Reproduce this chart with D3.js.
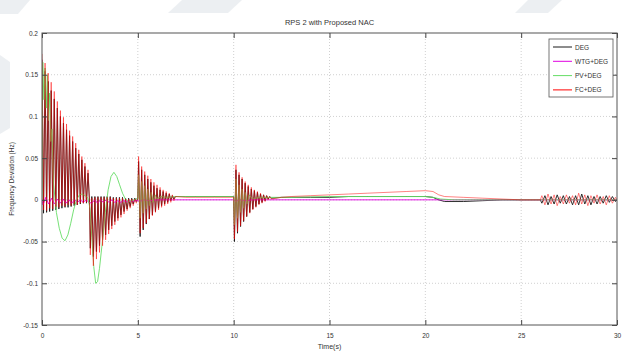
<!DOCTYPE html>
<html>
<head>
<meta charset="utf-8">
<script src="https://cdn.jsdelivr.net/npm/d3@7"></script>
<style>
  html, body { margin: 0; padding: 0; background: #fff; }
  svg { display: block; font-family: Arial, "Liberation Sans", sans-serif; }
</style>
</head>
<body>
<svg id="chart" width="630" height="352"></svg>
<script>
// ---- data ----------------------------------------------------------------
const chartTitle = "RPS 2 with Proposed NAC";
const xLabel = "Time(s)";
const yLabel = "Frequency Deviation (Hz)";
const xTicks = [0, 5, 10, 15, 20, 25, 30];
const yTicks = [-0.15, -0.1, -0.05, 0, 0.05, 0.1, 0.15, 0.2];
const seriesNames = ["DEG", "WTG+DEG", "PV+DEG", "FC+DEG"];

// shared sample times for the two fast-oscillating responses
const tFast = [
  0, 0.08, 0.16, 0.24, 0.32, 0.40, 0.48, 0.56, 0.64, 0.72, 0.80, 0.88, 0.96, 1.04, 1.12, 1.20,
  1.28, 1.36, 1.44, 1.52, 1.60, 1.68, 1.76, 1.84, 1.92, 2.00, 2.08, 2.16, 2.24, 2.32, 2.40, 2.48,
  2.52, 2.60, 2.68, 2.76, 2.84, 2.92, 3.00, 3.08, 3.16, 3.24, 3.32, 3.40, 3.48, 3.56, 3.64, 3.72,
  3.80, 3.88, 3.96, 4.04, 4.12, 4.20, 4.28, 4.36, 4.44, 4.52, 4.60, 4.68, 4.76, 4.84, 4.92,
  5.00, 5.04, 5.12, 5.20, 5.28, 5.36, 5.44, 5.52, 5.60, 5.68, 5.76, 5.84, 5.92, 6.00, 6.08, 6.16,
  6.24, 6.32, 6.40, 6.48, 6.56, 6.64, 6.72, 6.80, 6.88, 6.96, 7.5, 8, 9, 9.96,
  10.00, 10.04, 10.12, 10.20, 10.28, 10.36, 10.44, 10.52, 10.60, 10.68, 10.76, 10.84, 10.92, 11.00,
  11.08, 11.16, 11.24, 11.32, 11.40, 11.48, 11.56, 11.64, 11.72, 11.80, 11.88, 11.96,
  12.5, 13, 14, 15, 16, 17, 18, 19, 20, 20.4, 20.7, 21, 22, 23, 24, 25, 26,
  26.08, 26.24, 26.40, 26.56, 26.72, 26.88, 27.04, 27.20, 27.36, 27.52, 27.68, 27.84, 28.00,
  28.16, 28.32, 28.48, 28.64, 28.80, 28.96, 29.12, 29.28, 29.44, 29.60, 29.76, 29.92, 30
];

const dfDEG = [
  0.168, -0.016, 0.154, -0.015, 0.142, -0.014, 0.131, -0.013, 0.121, -0.012, 0.110, -0.011, 0.100, -0.010, 0.092, -0.009,
  0.084, -0.009, 0.077, -0.008, 0.070, -0.007, 0.062, -0.006, 0.055, -0.005, 0.048, -0.004, 0.040, -0.004, 0.032, -0.003,
  -0.058, 0.004, -0.068, 0.004, -0.062, 0.004, -0.055, 0.004, -0.048, 0.004, -0.042, 0.004, -0.036, 0.004, -0.031, 0.003,
  -0.026, 0.003, -0.022, 0.003, -0.018, 0.003, -0.014, 0.002, -0.011, 0.002, -0.008, 0.002, -0.005, 0.002, -0.002,
  0.002, 0.046, -0.044, 0.036, -0.036, 0.030, -0.029, 0.025, -0.023, 0.021, -0.018, 0.017, -0.014, 0.014, -0.010, 0.012,
  -0.007, 0.010, -0.005, 0.008, -0.003, 0.007, -0.001, 0.005, 0.001, 0.004, 0.004, 0.004, 0.004, 0.004,
  0.004, -0.050, 0.036, -0.040, 0.030, -0.032, 0.025, -0.026, 0.020, -0.020, 0.016, -0.015, 0.013, -0.011,
  0.011, -0.008, 0.009, -0.005, 0.007, -0.003, 0.006, -0.001, 0.005, 0.001, 0.004, 0.002,
  0.003, 0.003, 0.003, 0.003, 0.004, 0.004, 0.004, 0.004, 0.004, 0.003, 0.000, -0.002, -0.002, -0.001, 0.000, 0.000, 0.000,
  -0.004, 0.005, -0.006, 0.004, -0.005, 0.006, -0.004, 0.005, -0.005, 0.004, -0.006, 0.005, -0.006,
  0.007, -0.005, 0.005, -0.006, 0.004, -0.005, 0.004, -0.004, 0.005, -0.003, 0.004, -0.002, 0.000
];

const dfFC = [
  0.175, -0.012, 0.164, -0.013, 0.152, -0.010, 0.141, -0.011, 0.130, -0.008, 0.118, -0.009, 0.107, -0.007, 0.099, -0.008,
  0.091, -0.006, 0.083, -0.007, 0.076, -0.005, 0.068, -0.006, 0.060, -0.004, 0.052, -0.004, 0.044, -0.003, 0.036, -0.002,
  -0.066, 0.002, -0.079, 0.003, -0.071, 0.003, -0.063, 0.003, -0.055, 0.003, -0.048, 0.003, -0.041, 0.003, -0.035, 0.002,
  -0.030, 0.002, -0.025, 0.002, -0.021, 0.002, -0.017, 0.001, -0.013, 0.001, -0.010, 0.001, -0.007, 0.001, -0.004,
  0.002, 0.052, -0.040, 0.040, -0.034, 0.034, -0.028, 0.029, -0.023, 0.025, -0.019, 0.021, -0.015, 0.018, -0.012, 0.015,
  -0.009, 0.012, -0.007, 0.010, -0.005, 0.008, -0.003, 0.006, -0.001, 0.004, 0.003, 0.003, 0.003, 0.003,
  0.003, -0.047, 0.042, -0.038, 0.033, -0.031, 0.027, -0.025, 0.022, -0.020, 0.018, -0.016, 0.015, -0.012,
  0.012, -0.009, 0.010, -0.006, 0.008, -0.004, 0.006, -0.002, 0.005, 0.000, 0.004, 0.001,
  0.003, 0.004, 0.005, 0.006, 0.007, 0.008, 0.009, 0.010, 0.011, 0.010, 0.006, 0.004, 0.003, 0.002, 0.001, 0.000, 0.000,
  0.005, -0.006, 0.007, -0.005, 0.006, -0.007, 0.004, -0.005, 0.006, -0.004, 0.005, -0.006, 0.008,
  -0.005, 0.006, -0.007, 0.005, -0.004, 0.006, -0.005, 0.004, -0.006, 0.005, -0.004, 0.003, 0.000
];

// slower responses, each with its own sample times
const tPV = [
  0, 0.04, 0.10, 0.16, 0.22, 0.28, 0.34, 0.40, 0.46, 0.52, 0.60, 0.75, 0.9, 1.05, 1.2, 1.35, 1.5,
  1.65, 1.8, 1.95, 2.1, 2.25, 2.4, 2.5, 2.6, 2.7, 2.8, 2.9, 3.0, 3.15, 3.3, 3.45, 3.6, 3.75, 3.9,
  4.05, 4.2, 4.35, 4.5, 4.7, 4.9, 5.0, 5.04, 5.12, 5.2, 5.28, 5.36, 5.44, 5.52, 5.6, 5.7, 5.8, 5.9,
  6.0, 6.2, 6.5, 7, 8, 9, 9.96, 10.0, 10.04, 10.12, 10.2, 10.28, 10.36, 10.44, 10.52, 10.6, 10.7,
  10.8, 11, 11.3, 12, 13, 15, 17, 19, 20, 20.4, 20.8, 21.5, 22.5, 24, 26, 28, 30
];
const dfPV = [
  0.0, 0.165, 0.120, 0.158, 0.110, 0.150, 0.095, 0.128, 0.070, 0.085, 0.020, -0.015, -0.034, -0.046, -0.049, -0.042, -0.028,
  -0.012, 0.000, 0.006, 0.007, 0.005, 0.002, -0.010, -0.045, -0.080, -0.100, -0.098, -0.082, -0.050, -0.015, 0.012, 0.028, 0.033, 0.028,
  0.018, 0.008, 0.001, -0.002, -0.001, 0.001, 0.002, 0.030, -0.022, 0.022, -0.016, 0.017, -0.011, 0.013, -0.007, 0.009, -0.003, 0.006,
  0.001, 0.004, 0.003, 0.004, 0.004, 0.004, 0.004, 0.004, -0.030, 0.025, -0.022, 0.018, -0.015, 0.013, -0.010, 0.009, -0.005,
  0.006, 0.001, 0.003, 0.003, 0.003, 0.004, 0.004, 0.004, 0.004, 0.003, 0.001, 0.000, 0.000, 0.000, 0.000, 0.000, 0.000
];

const tWTG = [
  0, 0.05, 0.2, 0.35, 0.5, 0.65, 0.8, 0.95, 1.1, 1.25, 1.4, 1.55, 1.7, 1.85, 2.0, 2.15, 2.3, 2.45,
  2.6, 2.75, 2.9, 3.05, 3.2, 3.35, 3.5, 3.65, 3.8, 3.95, 4.1, 4.25, 4.4, 4.55, 4.7, 4.85, 5.0, 5.1,
  5.3, 5.6, 6, 10, 10.1, 10.3, 10.6, 11, 30
];
const dfWTG = [
  0, -0.006, 0.003, -0.005, 0.002, -0.005, 0.001, -0.004, 0.001, -0.004, 0.000, -0.004, 0.000, -0.003, 0.000, -0.003, 0.000, -0.003,
  -0.004, 0.000, -0.004, 0.000, -0.003, 0.000, -0.003, 0.000, -0.003, -0.001, -0.003, -0.001, -0.002, -0.001, -0.002, -0.001, -0.001, -0.002,
  0.000, -0.001, 0.000, 0.000, -0.002, 0.000, -0.001, 0.000, 0.000
];

const seriesColors = ["#1a1a1a", "#e000e0", "#66dd66", "#ff0000"];

// ---- layout --------------------------------------------------------------
const svg = d3.select("#chart");
const W = 630, H = 352;
const plot = { left: 42, right: 617, top: 33, bottom: 325 };

svg.append("rect").attr("width", W).attr("height", H).attr("fill", "#fff");

// faint background swatches in the page margins
const swatches = [
  [[0, 0], [30, 0], [18, 14], [0, 14]],
  [[182, 0], [242, 0], [228, 13], [168, 13]],
  [[528, 0], [562, 0], [548, 13], [515, 13]],
  [[0, 55], [10, 62], [10, 128], [0, 134]]
];
svg.append("g").selectAll("path").data(swatches).join("path")
  .attr("d", d => d3.line()(d) + "Z")
  .attr("fill", "#dde2e8").attr("opacity", 0.55);

const x = d3.scaleLinear().domain([0, 30]).range([plot.left, plot.right]);
const y = d3.scaleLinear().domain([-0.15, 0.2]).range([plot.bottom, plot.top]);

// grid
const grid = svg.append("g").attr("stroke", "#c4c4c4").attr("stroke-width", 0.8)
  .attr("stroke-dasharray", "1,2");
grid.selectAll("line.gx").data(xTicks.slice(1, -1)).join("line")
  .attr("x1", d => x(d)).attr("x2", d => x(d))
  .attr("y1", plot.top).attr("y2", plot.bottom);
grid.selectAll("line.gy").data(yTicks.slice(1, -1)).join("line")
  .attr("y1", d => y(d)).attr("y2", d => y(d))
  .attr("x1", plot.left).attr("x2", plot.right);

// series
svg.append("clipPath").attr("id", "plotclip").append("rect")
  .attr("x", plot.left).attr("y", plot.top)
  .attr("width", plot.right - plot.left).attr("height", plot.bottom - plot.top);

const pair = (ts, vs) => ts.map((t, i) => [t, vs[i]]).filter(d => d[1] !== undefined);
const series = [
  pair(tFast, dfDEG),
  pair(tWTG, dfWTG),
  pair(tPV, dfPV),
  pair(tFast, dfFC)
];
const line = d3.line().x(d => x(d[0])).y(d => y(d[1]));
svg.append("g").attr("clip-path", "url(#plotclip)")
  .selectAll("path").data(series).join("path")
  .attr("d", line)
  .attr("fill", "none")
  .attr("stroke", (d, i) => seriesColors[i])
  .attr("stroke-width", (d, i) => i === 3 ? 0.7 : 0.9)
  .attr("stroke-opacity", (d, i) => i === 3 ? 0.7 : 1);

// axes box and ticks (inward, on all four sides)
const fmtY = d => d === 0 ? "0" : String(+d.toFixed(2));
svg.append("g").attr("transform", `translate(0,${plot.bottom})`)
  .call(d3.axisBottom(x).tickValues(xTicks).tickSizeInner(-5).tickSizeOuter(0).tickPadding(8))
  .call(g => g.select(".domain").remove());
svg.append("g").attr("transform", `translate(0,${plot.top})`)
  .call(d3.axisTop(x).tickValues(xTicks).tickSizeInner(-5).tickSizeOuter(0).tickFormat(""))
  .call(g => g.select(".domain").remove());
svg.append("g").attr("transform", `translate(${plot.left},0)`)
  .call(d3.axisLeft(y).tickValues(yTicks).tickSizeInner(-5).tickSizeOuter(0).tickPadding(4).tickFormat(fmtY))
  .call(g => g.select(".domain").remove());
svg.append("g").attr("transform", `translate(${plot.right},0)`)
  .call(d3.axisRight(y).tickValues(yTicks).tickSizeInner(-5).tickSizeOuter(0).tickFormat(""))
  .call(g => g.select(".domain").remove());
svg.selectAll(".tick line").attr("stroke", "#444");
svg.selectAll(".tick text").attr("font-size", 6.5).attr("fill", "#333")
  .attr("font-family", "Arial, 'Liberation Sans', sans-serif");

svg.append("rect")
  .attr("x", plot.left).attr("y", plot.top)
  .attr("width", plot.right - plot.left).attr("height", plot.bottom - plot.top)
  .attr("fill", "none").attr("stroke", "#555").attr("stroke-width", 1);

// titles
svg.append("text").attr("x", (plot.left + plot.right) / 2).attr("y", 25)
  .attr("text-anchor", "middle").attr("font-size", 7.5).attr("fill", "#333")
  .text(chartTitle);
svg.append("text").attr("x", (plot.left + plot.right) / 2).attr("y", 349)
  .attr("text-anchor", "middle").attr("font-size", 7).attr("fill", "#333")
  .text(xLabel);
svg.append("text")
  .attr("transform", `translate(14,${(plot.top + plot.bottom) / 2}) rotate(-90)`)
  .attr("text-anchor", "middle").attr("font-size", 6.5).attr("fill", "#333")
  .text(yLabel);

// legend
const lg = svg.append("g").attr("transform", "translate(549,39)");
lg.append("rect").attr("width", 64).attr("height", 58)
  .attr("fill", "#fff").attr("stroke", "#555").attr("stroke-width", 0.8);
const items = lg.selectAll("g.item").data(seriesNames).join("g")
  .attr("transform", (d, i) => `translate(0,${8 + i * 14.3})`);
items.append("line").attr("x1", 4).attr("x2", 23).attr("y1", 0).attr("y2", 0)
  .attr("stroke", (d, i) => seriesColors[i]).attr("stroke-width", 1);
items.append("text").attr("x", 26).attr("y", 2.5).attr("font-size", 6.5).attr("fill", "#333")
  .text(d => d);
</script>
</body>
</html>
